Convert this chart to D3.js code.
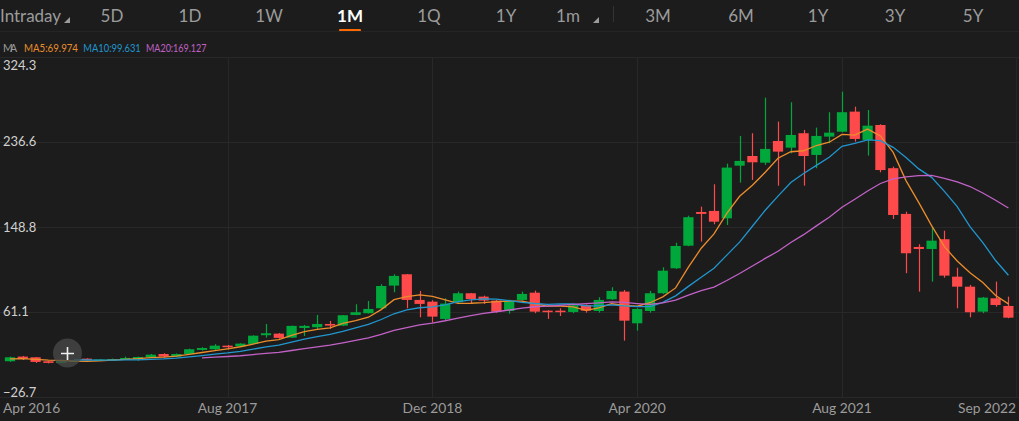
<!DOCTYPE html>
<html>
<head>
<meta charset="utf-8">
<script src="https://cdn.jsdelivr.net/npm/d3@7/dist/d3.min.js"></script>
<style>
  html, body { margin: 0; padding: 0; background: #1c1c1c; }
  svg { display: block; }
</style>
</head>
<body>
<svg id="chart" width="1019" height="421"></svg>
<script>
// ---- data ----
const months = ["2016-03","2016-04","2016-05","2016-06","2016-07","2016-08","2016-09","2016-10","2016-11","2016-12",
  "2017-01","2017-02","2017-03","2017-04","2017-05","2017-06","2017-07","2017-08","2017-09","2017-10","2017-11","2017-12",
  "2018-01","2018-02","2018-03","2018-04","2018-05","2018-06","2018-07","2018-08","2018-09","2018-10","2018-11","2018-12",
  "2019-01","2019-02","2019-03","2019-04","2019-05","2019-06","2019-07","2019-08","2019-09","2019-10","2019-11","2019-12",
  "2020-01","2020-02","2020-03","2020-04","2020-05","2020-06","2020-07","2020-08","2020-09","2020-10","2020-11","2020-12",
  "2021-01","2021-02","2021-03","2021-04","2021-05","2021-06","2021-07","2021-08","2021-09","2021-10","2021-11","2021-12",
  "2022-01","2022-02","2022-03","2022-04","2022-05","2022-06","2022-07","2022-08","2022-09"];
const openVals = [10.2,15.0,14.3,10.2,8.5,10.2,12.9,11.5,11.2,12.3,12.3,14.3,17.7,15.0,17.7,21.9,22.6,26.3,25.7,28.1,
  37.1,38.7,34.6,44.6,45.3,48.7,47.0,58.0,59.8,64.9,88.3,100.0,73.5,71.7,53.9,71.1,80.4,76.9,72.8,62.1,
  73.5,81.0,62.4,62.4,61.1,68.3,62.1,74.2,82.1,49.4,62.1,80.4,106.2,129.5,164.3,165.4,157.8,212.1,222.1,215.2,
  237.6,230.7,245.6,223.2,242.1,247.2,267.9,238.7,254.1,209.5,162.3,128.2,126.1,136.2,97.5,87.2,61.4,75.2,67.3];
const highVals = [15.0,15.7,14.6,10.5,10.5,11.5,13.2,12.5,13.0,15.0,15.0,17.7,18.5,18.3,23.2,24.7,27.8,27.0,28.8,37.0,
  48.7,39.4,47.0,47.7,58.0,51.8,58.0,69.1,72.5,89.7,100.0,100.3,82.8,73.2,75.2,82.1,80.7,77.9,73.5,73.8,
  82.1,83.1,62.9,64.9,68.8,68.8,76.3,86.6,83.8,64.9,82.8,107.2,132.6,160.5,169.8,192.9,214.2,242.8,245.6,282.3,
  257.6,277.6,249.0,251.4,267.3,288.5,273.0,269.6,254.9,211.1,164.6,131.0,149.2,145.0,106.8,89.0,76.6,92.4,76.9];
const lowVals = [9.5,11.5,8.5,8.0,8.2,9.8,11.2,11.0,10.8,11.5,10.8,13.6,13.9,14.5,17.2,21.2,21.9,22.6,25.3,27.8,
  34.6,33.5,34.3,36.3,43.2,43.6,46.5,57.7,59.5,64.2,81.4,64.9,55.6,50.1,52.8,70.1,70.1,69.4,60.4,59.3,
  72.8,59.8,53.9,57.0,59.8,60.4,60.4,73.5,31.5,41.8,60.4,79.7,105.5,129.0,133.7,151.6,150.9,194.6,197.4,212.9,
  191.5,224.9,191.5,209.5,235.3,246.6,236.9,222.5,205.3,157.1,101.1,82.1,92.4,96.5,64.9,55.6,59.8,66.6,54.6];
const closeVals = [14.3,12.9,9.5,8.5,10.2,11.0,11.5,12.0,12.5,13.6,14.6,17.0,15.0,17.7,22.6,23.9,26.3,24.7,28.4,36.6,
  39.1,34.3,46.7,46.7,48.7,47.0,57.7,60.8,64.2,87.9,98.3,73.5,69.4,56.3,69.7,80.4,74.5,72.8,61.4,72.5,
  79.7,61.4,61.1,61.1,68.0,62.4,73.5,82.8,52.1,64.2,80.4,103.7,129.2,158.9,162.3,154.3,210.1,217.0,215.6,229.4,
  226.6,243.8,222.1,242.8,246.2,267.3,239.7,253.4,207.6,161.2,121.7,126.1,134.7,98.6,87.2,60.8,75.9,68.3,55.2];
// closes of the 4 months before the first visible candle (feed the moving averages)
const priorCloses = [12.0, 13.0, 12.5, 11.5];
const maPeriods = [5, 10, 20];
const maLegend = ["MA5:69.974", "MA10:99.631", "MA20:169.127"];
const yTicks = [324.3, 236.6, 148.8, 61.1, -26.7];
const xTickMonths = ["2016-04","2017-08","2018-12","2020-04","2021-08","2022-09"];
const xTickLabels = ["Apr 2016","Aug 2017","Dec 2018","Apr 2020","Aug 2021","Sep 2022"];
const xGridMonths = ["2017-08","2018-12","2020-04","2021-08"];
const tabs = ["Intraday","5D","1D","1W","1M","1Q","1Y","1m","3M","6M","1Y","3Y","5Y"];
const tabCenters = [null,112,190,269,350,429,506,568,658,741,818,895,973];

(function () {
// ---- styles ----
const BG = "#1c1c1c", GRID = "#282828", UP = "#00a83c", DOWN = "#fe4a4a";
const maColors = ["#ec8d2c", "#2196cf", "#c262c7"];
const svg = d3.select("#chart");
svg.append("rect").attr("width", 1019).attr("height", 421).attr("fill", BG);

const plotTop = 57, plotBottom = 397;
const x = d3.scaleBand().domain(months).range([3.6, 1014.8]).paddingInner(0.2).paddingOuter(0.1);
const y = d3.scaleLinear().domain([-26.7, 324.3]).range([plotBottom, plotTop]);
const cx = m => x(m) + x.bandwidth() / 2;

// ---- top tabs ----
const tabG = svg.append("g").attr("font-family", "Lato, 'Open Sans', sans-serif");
tabs.forEach((t, i) => {
  const txt = tabG.append("text").attr("y", 22).attr("font-size", 17)
    .attr("fill", t === "1M" ? "#ffffff" : "#9b9b9b")
    .attr("font-weight", t === "1M" ? 700 : 400)
    .text(t);
  if (i === 0) txt.attr("x", 0); else txt.attr("x", tabCenters[i]).attr("text-anchor", "middle");
});
tabG.append("path").attr("d", "M64,23 L70,23 L70,17 Z").attr("fill", "#9b9b9b");
tabG.append("path").attr("d", "M593,23 L599,23 L599,17 Z").attr("fill", "#9b9b9b");
tabG.append("line").attr("x1", 613.5).attr("x2", 613.5).attr("y1", 6).attr("y2", 22).attr("stroke", "#333");
tabG.append("rect").attr("x", 339).attr("y", 29).attr("width", 22).attr("height", 2.2).attr("fill", "#ff6a00").attr("rx", 1);
svg.append("line").attr("x1", 0).attr("x2", 1019).attr("y1", 31.5).attr("y2", 31.5).attr("stroke", "#252525");

// ---- MA legend ----
const legG = svg.append("g").attr("font-size", 10.5).attr("font-family", "Lato, 'Open Sans', sans-serif");
legG.append("text").attr("x", 3).attr("y", 52).attr("fill", "#9b9b9b").attr("textLength", 14).text("MA");
const legX = [24, 83.3, 146], legW = [54, 57.5, 60.5];
maLegend.forEach((t, i) => legG.append("text").attr("x", legX[i]).attr("y", 52)
  .attr("textLength", legW[i]).attr("lengthAdjust", "spacingAndGlyphs")
  .attr("fill", maColors[i]).text(t));

// ---- grid ----
const grid = svg.append("g");
grid.selectAll("line.h").data(yTicks).join("line")
  .attr("x1", 0).attr("x2", 1019).attr("y1", d => Math.round(y(d)) + 0.5).attr("y2", d => Math.round(y(d)) + 0.5)
  .attr("stroke", GRID);
grid.selectAll("line.v").data(xGridMonths).join("line")
  .attr("x1", d => Math.round(cx(d)) + 0.5).attr("x2", d => Math.round(cx(d)) + 0.5)
  .attr("y1", plotTop).attr("y2", plotBottom).attr("stroke", GRID);
grid.append("line").attr("x1", 1016.5).attr("x2", 1016.5).attr("y1", plotTop).attr("y2", plotBottom).attr("stroke", "#252525");

// ---- y labels ----
const yl = svg.append("g").attr("font-family", "Lato, 'Open Sans', sans-serif").attr("font-size", 13).attr("fill", "#d0d0d0");
yTicks.forEach((v, i) => {
  let yy = y(v) + 4.5;
  if (i === 0) yy = y(v) + 12.5;
  if (i === yTicks.length - 1) yy = y(v) - 0.5;
  yl.append("text").attr("x", 3).attr("y", yy).text(d3.format(".1f")(v));
});

// ---- x labels ----
const xl = svg.append("g").attr("font-family", "Lato, 'Open Sans', sans-serif").attr("font-size", 13.8).attr("fill", "#9b9b9b");
xTickMonths.forEach((m, i) => {
  const t = xl.append("text").attr("y", 413).text(xTickLabels[i]);
  const w = t.node().getComputedTextLength();
  let px = cx(m) - w / 2;
  px = Math.max(3, Math.min(1016 - w, px));
  t.attr("x", px);
});

// ---- candles ----
const candles = months.map((m, i) => ({ m, o: openVals[i], h: highVals[i], l: lowVals[i], c: closeVals[i] }));
const cg = svg.append("g");
const col = d => d.c > d.o ? UP : (d.c < d.o ? DOWN : "#888");
cg.selectAll("line.w").data(candles).join("line")
  .attr("x1", d => Math.round(cx(d.m)) + 0.5).attr("x2", d => Math.round(cx(d.m)) + 0.5)
  .attr("y1", d => y(d.h)).attr("y2", d => y(d.l)).attr("stroke", col).attr("stroke-width", 1.2);
cg.selectAll("rect").data(candles).join("rect")
  .attr("x", d => x(d.m)).attr("width", x.bandwidth())
  .attr("y", d => y(Math.max(d.o, d.c)))
  .attr("height", d => Math.max(1.5, Math.abs(y(d.o) - y(d.c))))
  .attr("fill", col);

// ---- moving averages ----
const allCloses = priorCloses.concat(closeVals);
const off = priorCloses.length;
maPeriods.forEach((p, k) => {
  const pts = [];
  months.forEach((m, i) => {
    const j = i + off;
    if (j >= p - 1) pts.push([cx(m), d3.mean(allCloses.slice(j - p + 1, j + 1))]);
  });
  svg.append("path").datum(pts)
    .attr("d", d3.line().x(d => d[0]).y(d => y(d[1])))
    .attr("fill", "none").attr("stroke", maColors[k]).attr("stroke-width", 1.3);
});

// ---- crosshair button ----
svg.append("circle").attr("cx", 67.5).attr("cy", 353).attr("r", 14.5).attr("fill", "#4a4a4a").attr("fill-opacity", 0.75);
svg.append("path").attr("d", "M61,353.5 H74 M67.5,347 V360").attr("stroke", "#f0f0f0").attr("stroke-width", 1.6);
})();
</script>
</body>
</html>
